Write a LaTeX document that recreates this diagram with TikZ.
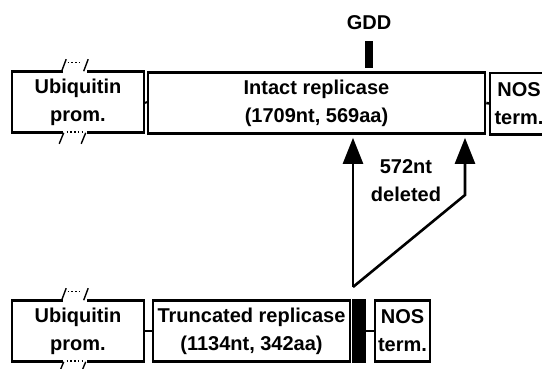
\documentclass[tikz,border=0pt]{standalone}
\usepackage{fontspec}
\setmainfont{Liberation Sans}
\usetikzlibrary{arrows.meta, positioning, calc}
\definecolor{inkblack}{HTML}{000000}
\definecolor{paper}{HTML}{FFFFFF}
\tikzset{
  genebox/.style={draw=#1, fill=paper, line width=2.6pt, minimum height=61pt,
              inner sep=0pt, align=center, font=\fontsize{20}{28}\selectfont\bfseries},
  openbox/.style={minimum height=61pt, inner sep=0pt, align=center,
              font=\fontsize{20}{28}\selectfont\bfseries},
  blockbox/.style={fill=#1, inner sep=0pt},
  linker/.style={line width=2.6pt, color=#1},
  delarr/.style={-{Triangle[length=26pt, width=20pt]}, line width=2.6pt, color=#1},
  breakmark/.style={line width=1.4pt, color=#1},
  breakdots/.style={line width=1.4pt, color=#1, dash pattern=on 1.5pt off 2.2pt},
}

\begin{document}
\begin{tikzpicture}[x=1pt, y=-1pt]
  \useasboundingbox (0,0) rectangle (542,368);

  % Intact construct
  \node[genebox=inkblack, minimum width=132pt] (ubitop) at (78,102) {Ubiquitin\\prom.};
  \node[genebox=inkblack, minimum width=337pt] (intact) at (316.5,103) {Intact replicase\\(1709nt, 569aa)};
  \node[openbox, minimum width=58pt] (nostop) at (519,103.5) {NOS\\term.};
  \draw[linker=inkblack] (nostop.north east) -- (nostop.north west) -- (nostop.south west) -- (nostop.south east);
  \draw[linker=inkblack] (ubitop.east) -- (intact.west);
  \draw[linker=inkblack] (intact.east) -- (nostop.west);

  % GDD motif
  \node[blockbox=inkblack, minimum width=8pt, minimum height=27pt] (gdd) at (369,54) {};
  \node[font=\fontsize{20}{28}\selectfont\bfseries, above=7pt of gdd] (gddlabel) {GDD};

  % Truncated construct
  \node[genebox=inkblack, minimum width=132pt] (ubibot) at (78,331) {Ubiquitin\\prom.};
  \node[genebox=inkblack, minimum width=197pt] (trunc) at (251.5,331) {Truncated replicase\\(1134nt, 342aa)};
  \node[blockbox=inkblack, minimum width=14pt, minimum height=63.6pt] (blk) at (359,331) {};
  \node[genebox=inkblack, minimum width=55pt] (nosbot) at (402.5,331) {NOS\\term.};
  \draw[linker=inkblack] (ubibot.east) -- (trunc.west);
  \draw[linker=inkblack] (blk.east) -- (nosbot.west);

  % Deletion arrows
  \coordinate (apex) at (353,287);
  \coordinate (bend) at (465,195);
  \draw[delarr=inkblack, shorten >=3pt] (apex) -- (apex |- intact.south);
  \draw[delarr=inkblack, shorten >=3pt, line join=miter] (apex) -- (bend) -- (bend |- intact.south);
  \node[font=\fontsize{20}{28}\selectfont\bfseries, align=center] (dellabel) at (406,181) {572nt\\deleted};

  % Break marks on promoter boxes
  \foreach \ubi in {ubitop, ubibot} {
    \fill[paper] ($(\ubi.north west)+(52,-2.5)$) rectangle ($(\ubi.north west)+(76,2.5)$);
    \draw[breakmark=inkblack] ($(\ubi.north west)+(51,1)$) -- ($(\ubi.north west)+(55.5,-11)$);
    \draw[breakmark=inkblack] ($(\ubi.north west)+(73,1)$) -- ($(\ubi.north west)+(77.5,-11)$);
    \draw[breakdots=inkblack] ($(\ubi.north west)+(57,-8)$) -- ($(\ubi.north west)+(71,-8)$);
    \fill[paper] ($(\ubi.south west)+(52,-2.5)$) rectangle ($(\ubi.south west)+(76,2.5)$);
    \draw[breakmark=inkblack] ($(\ubi.south west)+(53,-1)$) -- ($(\ubi.south west)+(48.5,10)$);
    \draw[breakmark=inkblack] ($(\ubi.south west)+(75,-1)$) -- ($(\ubi.south west)+(70.5,10)$);
    \draw[breakdots=inkblack] ($(\ubi.south west)+(56,-2)$) -- ($(\ubi.south west)+(72,-2)$);
  }
\end{tikzpicture}
\end{document}
